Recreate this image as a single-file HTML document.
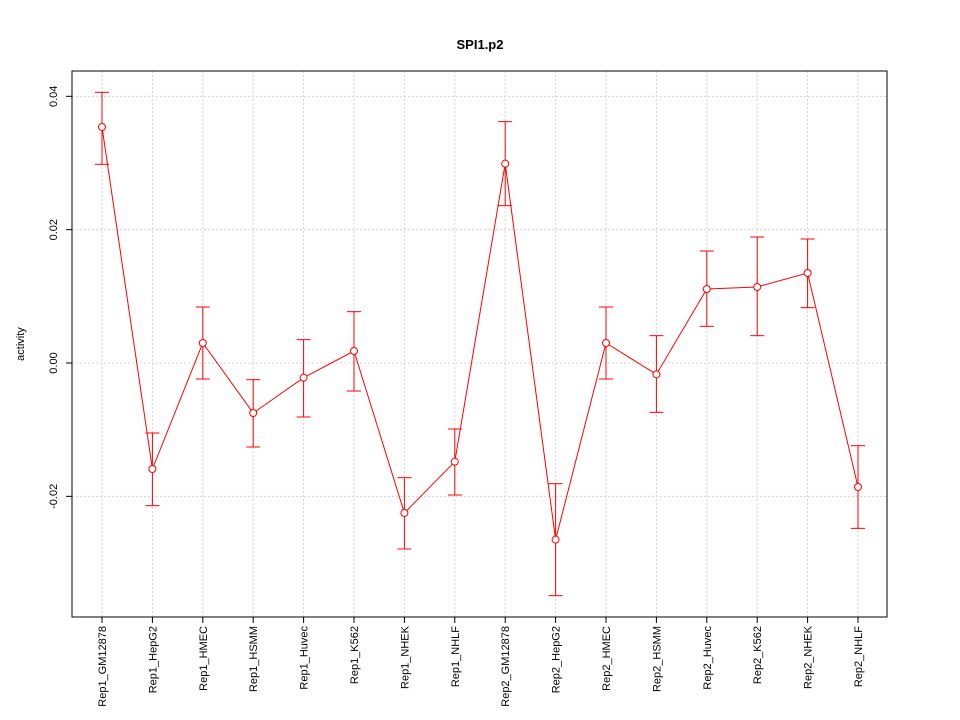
<!DOCTYPE html>
<html><head><meta charset="utf-8"><style>
html,body{margin:0;padding:0;background:#fff;}
svg{display:block;font-family:"Liberation Sans",sans-serif;}
</style></head><body>
<svg id="chart" width="960" height="720"></svg>
<script>
const categories=["Rep1_GM12878","Rep1_HepG2","Rep1_HMEC","Rep1_HSMM","Rep1_Huvec","Rep1_K562","Rep1_NHEK","Rep1_NHLF","Rep2_GM12878","Rep2_HepG2","Rep2_HMEC","Rep2_HSMM","Rep2_Huvec","Rep2_K562","Rep2_NHEK","Rep2_NHLF"];
const values=[0.0354,-0.0159,0.0030,-0.0075,-0.0022,0.0018,-0.0225,-0.0148,0.0299,-0.0265,0.0030,-0.0017,0.0111,0.0114,0.0135,-0.0186];
const upper=[0.0406,-0.0105,0.0084,-0.0025,0.0035,0.0077,-0.0172,-0.0099,0.0362,-0.0181,0.0084,0.0041,0.0168,0.0189,0.0186,-0.0124];
const lower=[0.0298,-0.0214,-0.0024,-0.0126,-0.0081,-0.0042,-0.0279,-0.0198,0.0236,-0.0349,-0.0024,-0.0074,0.0055,0.0041,0.0083,-0.0248];
const yTicks=[-0.02,0.00,0.02,0.04];
const yTickLabels=["-0.02","0.00","0.02","0.04"];

const svg=document.getElementById('chart');
const NS="http://www.w3.org/2000/svg";
const L=72,R=887,T=71,B=617;
function x(i){return 102+i*(858-102)/(categories.length-1);}
function y(v){return 363-v*6667;}
function mk(tag,attrs,parent){const e=document.createElementNS(NS,tag);for(const k in attrs)e.setAttribute(k,attrs[k]);(parent||svg).appendChild(e);return e;}

const title=mk('text',{x:480,y:49,'text-anchor':'middle','font-size':13,'font-weight':'bold'});
title.textContent="SPI1.p2";



const grid=mk('g',{stroke:'#d3d3d3','stroke-dasharray':'2,2','stroke-width':1});


categories.forEach((c,i)=>mk('line',{x1:x(i),x2:x(i),y1:T,y2:B},grid));
yTicks.forEach(v=>mk('line',{x1:L,x2:R,y1:y(v),y2:y(v)},grid));

const frame=mk('rect',{x:L,y:T,width:R-L,height:B-T,fill:'none',stroke:'#000'});



const yAxis=mk('g',{});


yTicks.forEach((v,i)=>{
  mk('line',{x1:L-6,x2:L,y1:y(v),y2:y(v),stroke:'#000'},yAxis);
  const t=mk('text',{x:57,y:y(v),'text-anchor':'middle','font-size':11,transform:`rotate(-90 57 ${y(v)})`},yAxis);
  t.textContent=yTickLabels[i];
  
  
});
const yt=mk('text',{x:24,y:344,'text-anchor':'middle','font-size':11,transform:'rotate(-90 24 344)'});
yt.textContent="activity";



const xAxis=mk('g',{});


categories.forEach((c,i)=>{
  mk('line',{x1:x(i),x2:x(i),y1:B,y2:B+6,stroke:'#000'},xAxis);
  const t=mk('text',{x:x(i)+4,y:626,'text-anchor':'end','font-size':11,transform:`rotate(-90 ${x(i)+4} 626)`},xAxis);
  t.textContent=c;
  
  
});

const series=mk('g',{stroke:'#ff0000',fill:'none','stroke-width':1});


const line=mk('polyline',{points:values.map((v,i)=>x(i)+','+y(v)).join(' ')},series);


values.forEach((v,i)=>{
  const g=mk('g',{},series);
  
  
  mk('line',{x1:x(i),x2:x(i),y1:y(upper[i]),y2:y(lower[i])},g);
  mk('line',{x1:x(i)-7,x2:x(i)+7,y1:y(upper[i]),y2:y(upper[i])},g);
  mk('line',{x1:x(i)-7,x2:x(i)+7,y1:y(lower[i]),y2:y(lower[i])},g);
  const p=mk('circle',{cx:x(i),cy:y(v),r:3.5,fill:'#fff'},series);
  
  
});
</script>
</body></html>
